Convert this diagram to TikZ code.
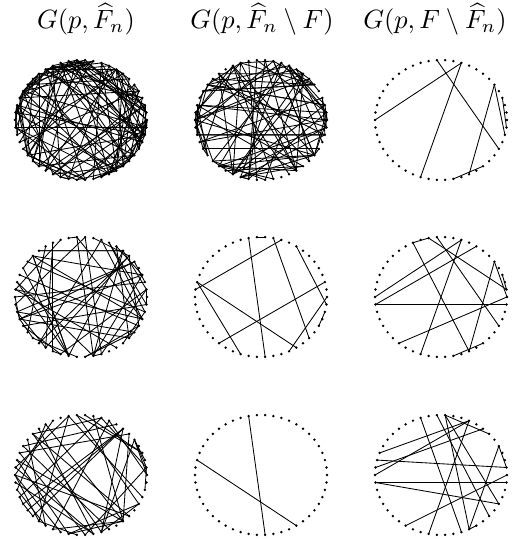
\documentclass[tikz,border=0pt]{standalone}
\usepackage{amsmath,amssymb}

\begin{document}
\begin{tikzpicture}[x=1bp, y=1bp,
  edge/.style={draw=black, line width=0.85bp},
  dot/.style={fill=black},
  title/.style={anchor=base, scale=2.65, inner sep=0pt},
]
\useasboundingbox (0,0) rectangle (525,539);
\foreach \r/\yc in {1/419,2/242,3/64}
  \foreach \c/\xc in {1/81,2/261,3/441}
    \foreach \k in {0,...,49}
      \coordinate (v\r\c-\k) at ({\xc+66*cos(7.2*\k)},{\yc+60*sin(7.2*\k)});
\pgfmathsetseed{11}
\foreach \r/\c/\m in {1/1/140,1/2/95,2/1/62,3/1/50}
  \foreach \e in {1,...,\m} {
    \pgfmathtruncatemacro\a{random(0,49)}
    \pgfmathtruncatemacro\b{random(0,49)}
    \draw[edge] (v\r\c-\a) -- (v\r\c-\b);
  }
\foreach \a/\b in {13/46,10/25,10/35,5/41,5/48,3/49,39/43}
  \draw[edge] (v13-\a) -- (v13-\b);
\foreach \a/\b in {12/13,14/38,10/24,23/42,11/44,8/49,2/32,0/41,23/35,48/46}
  \draw[edge] (v22-\a) -- (v22-\b);
\foreach \a/\b in {14/1,14/16,16/41,10/25,8/26,26/49,10/35,5/41,5/0,3/1,0/32,13/46,39/43}
  \draw[edge] (v23-\a) -- (v23-\b);
\foreach \a/\b in {14/38,23/42}
  \draw[edge] (v32-\a) -- (v32-\b);
\foreach \a/\b in {23/1,26/49,26/46,22/9,25/9,24/7,12/41,15/40,9/36,4/41,4/1,33/0,12/46,42/41,12/6,13/44}
  \draw[edge] (v33-\a) -- (v33-\b);
\foreach \r in {1,2,3}
  \foreach \c in {1,2,3}
    \foreach \k in {0,...,49}
      \fill[dot] (v\r\c-\k) circle (1.35);
\node[title] (t1) at (86,510) {$G(p,\widehat{F}_n)$};
\node[title] (t2) at (262,510) {$G(p,\widehat{F}_n\setminus F)$};
\node[title] (t3) at (435,510) {$G(p,F\setminus\widehat{F}_n)$};
\end{tikzpicture}
\end{document}
